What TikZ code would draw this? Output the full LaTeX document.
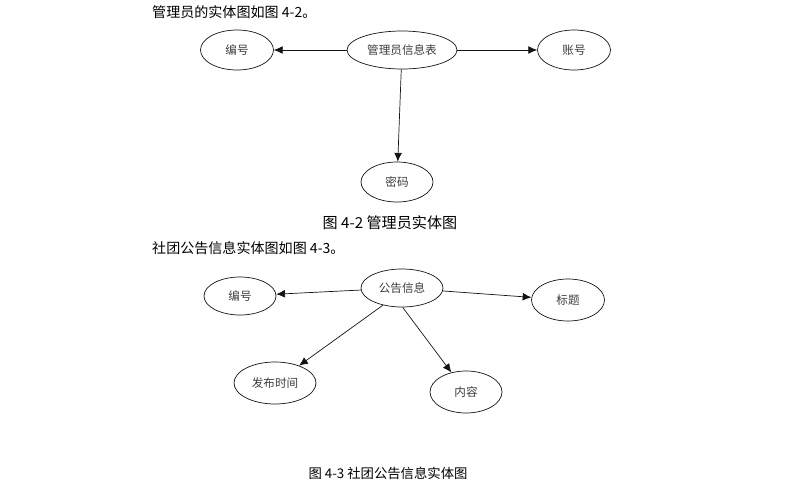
\documentclass[tikz,border=0pt]{standalone}
\usepackage{fontspec}
\setmainfont{Noto Sans CJK SC}
\usetikzlibrary{arrows.meta,shapes.geometric}
\definecolor{erline}{RGB}{20,20,20}
\definecolor{ertext}{RGB}{60,60,60}
\tikzset{
  attr/.style={ellipse,draw=erline,thin,inner sep=0pt,
               minimum width=#1,minimum height=0.8cm,
               font=\fontsize{6.6pt}{7pt}\selectfont,text=ertext},
  attr/.default=1.46cm,
  arr/.style={-{Latex[length=5pt,width=4.4pt]},erline,thin},
  para/.style={anchor=west,font=\fontsize{8pt}{9pt}\selectfont},
  figcap/.style={font=\fontsize{#1}{9pt}\selectfont},
  figcap/.default=7.6pt,
}
\begin{document}
\begin{tikzpicture}[x=0.02cm,y=-0.02cm]
  \useasboundingbox (0,0) rectangle (787,490);
  % figure 4-2
  \node[para] (t1) at (146,12) {管理员的实体图如图 4-2。};
  \node[attr=2.2cm,minimum height=0.76cm] (adm) at (402,50) {管理员信息表};
  \node[attr] (aid) at (237,50) {编号};
  \node[attr] (acc) at (574,50) {账号};
  \node[attr=1.44cm] (pwd) at (397,182) {密码};
  \draw[arr] (adm) -- (aid);
  \draw[arr] (adm) -- (acc);
  \draw[arr] (adm) -- (pwd);
  \node[figcap=8.6pt] (c1) at (390,223) {图 4-2 管理员实体图};
  % figure 4-3
  \node[para] (t2) at (146,248) {社团公告信息实体图如图 4-3。};
  \node[attr=1.64cm,minimum height=0.76cm] (ann) at (402,288) {公告信息};
  \node[attr=1.44cm,minimum height=0.76cm] (nid) at (240,296) {编号};
  \node[attr,minimum height=0.84cm] (tit) at (568,300) {标题};
  \node[attr=1.64cm,minimum height=0.84cm] (tim) at (275,383) {发布时间};
  \node[attr=1.44cm,minimum height=0.84cm] (con) at (466,392) {内容};
  \draw[arr] (ann) -- (nid);
  \draw[arr] (ann) -- (tit);
  \draw[arr] (ann.222) -- (tim);
  \draw[arr] (ann.272) -- (con);
  \node[figcap] (c2) at (388,473) {图 4-3 社团公告信息实体图};
\end{tikzpicture}
\end{document}
